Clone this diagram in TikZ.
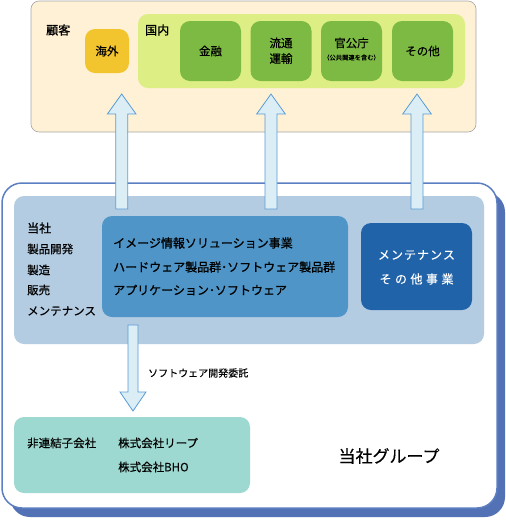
\documentclass[tikz,border=0pt]{standalone}
\usepackage{fontspec}
\setmainfont[FakeBold=0.35]{Noto Sans CJK JP}
\newfontfamily\medfont[FakeBold=0.9]{Noto Sans CJK JP}
\definecolor{beige}{HTML}{FEF1D6}
\definecolor{beigeborder}{HTML}{A6A6A6}
\definecolor{yel}{HTML}{F2C42E}
\definecolor{lgreen}{HTML}{DDEE85}
\definecolor{dgreen}{HTML}{7DBA43}
\definecolor{arrfill}{HTML}{DBEEF6}
\definecolor{arrline}{HTML}{5B9BD5}
\definecolor{grpline}{HTML}{5B7FC2}
\definecolor{grpshadow}{HTML}{5272B5}
\definecolor{lblue}{HTML}{B4CCE2}
\definecolor{mblue}{HTML}{4F95C7}
\definecolor{dblue}{HTML}{2163A8}
\definecolor{teal2}{HTML}{9DD9D1}
\tikzset{
  box/.style={rectangle, rounded corners=10pt, inner sep=0pt},
  gbox/.style={box, fill=dgreen, minimum width=61pt, minimum height=60pt},
  blockarrow/.style={fill=arrfill, draw=arrline, line width=0.8pt, line join=miter},
  txt/.style={inner sep=0pt, font=\fontsize{11.5}{13}\selectfont},
  midtxt/.style={inner sep=0pt, anchor=west, font=\fontsize{12}{14}\selectfont\medfont},
}
\begin{document}
\begin{tikzpicture}[x=1pt,y=-1pt]
\useasboundingbox (0,0) rectangle (506,520);
% customers
\node[box, rounded corners=8pt, fill=beige, draw=beigeborder, line width=0.6pt, minimum width=445pt, minimum height=131pt] (cust) at (253.5,66.5) {};
\node[txt, anchor=west, font=\fontsize{12}{14}\selectfont\medfont] (custlbl) at (46,30) {顧客};
\node[box, fill=yel, minimum width=44pt, minimum height=44pt] (kaigai) at (107,51) {};
\node[txt] at (kaigai.center) {海外};
\node[box, fill=lgreen, minimum width=327pt, minimum height=74pt] (kokunai) at (301.5,51) {};
\node[txt, anchor=west, font=\fontsize{12}{14}\selectfont\medfont] (kokunailbl) at (145,30) {国内};
\node[gbox] (kinyu) at (210.5,51) {};
\node[txt] at (kinyu.center) {金融};
\node[gbox] (ryutsu) at (281,51) {};
\node[txt] at (281,43) {流通};
\node[txt] at (281,58.5) {運輸};
\node[gbox] (kankocho) at (351.5,51) {};
\node[txt] at (351.5,43) {官公庁};
\node[inner sep=0pt, font=\fontsize{6.3}{7}\selectfont] at (351.5,57.5) {（公共関連を含む）};
\node[gbox] (sonota) at (422.5,51) {};
\node[txt] at (sonota.center) {その他};
% group
\fill[grpshadow, rounded corners=20pt] (10,192) rectangle (505,517);
\node[box, rounded corners=20pt, fill=white, draw=grpline, line width=1.5pt, minimum width=495pt, minimum height=325pt] (group) at (249.5,345.5) {};
\node[box, fill=lblue, minimum width=470pt, minimum height=148pt] (tosha) at (249,270) {};
\node[txt, anchor=west, font=\fontsize{12}{14}\selectfont\medfont] at (27,228) {当社};
\node[txt, anchor=west] at (27,249) {製品開発};
\node[txt, anchor=west] at (27,270) {製造};
\node[txt, anchor=west] at (27,290) {販売};
\node[txt, anchor=west] at (27,311) {メンテナンス};
\node[box, fill=mblue, minimum width=246pt, minimum height=101pt] (image) at (225,266.5) {};
\node[midtxt] at (113,243) {イメージ情報ソリューション事業};
\node[midtxt] at (113,267) {ハードウェア製品群･ソフトウェア製品群};
\node[midtxt] at (113,290) {アプリケーション･ソフトウェア};
\node[box, fill=dblue, minimum width=111pt, minimum height=87pt] (maint) at (416.5,266.5) {};
\node[txt, text=white, font=\fontsize{12}{14}\selectfont] at (416.5,255) {メ\hspace{1pt}ン\hspace{1pt}テ\hspace{1pt}ナ\hspace{1pt}ン\hspace{1pt}ス};
\node[txt, text=white, font=\fontsize{12}{14}\selectfont] at (416.5,279) {そ\hspace{3.5pt}の\hspace{3.5pt}他\hspace{3.5pt}事\hspace{3.5pt}業};
% up arrows
\foreach \cx in {121.7,271,417}{
  \draw[blockarrow] (\cx-6,209) -- (\cx-6,114) -- (\cx-14.3,114) -- (\cx,94) -- (\cx+14.3,114) -- (\cx+6,114) -- (\cx+6,209) -- cycle;
}
% down arrow
\draw[blockarrow] (128,325) -- (138,325) -- (138,392) -- (146,392) -- (133,411) -- (120,392) -- (128,392) -- cycle;
\node[inner sep=0pt, anchor=west, font=\fontsize{10}{12}\selectfont] (itaku) at (148,373) {ソフトウェア開発委託};
% subsidiary
\node[box, fill=teal2, minimum width=236pt, minimum height=76pt] (sub) at (132,455) {};
\node[txt, anchor=west] at (27,443) {非連結子会社};
\node[txt, anchor=west] at (118,443) {株式会社リープ};
\node[txt, anchor=west] at (118,467) {株式会社BHO};
\node[inner sep=0pt, font=\fontsize{17}{20}\selectfont] (grplbl) at (389,456) {当社グループ};
\end{tikzpicture}
\end{document}
